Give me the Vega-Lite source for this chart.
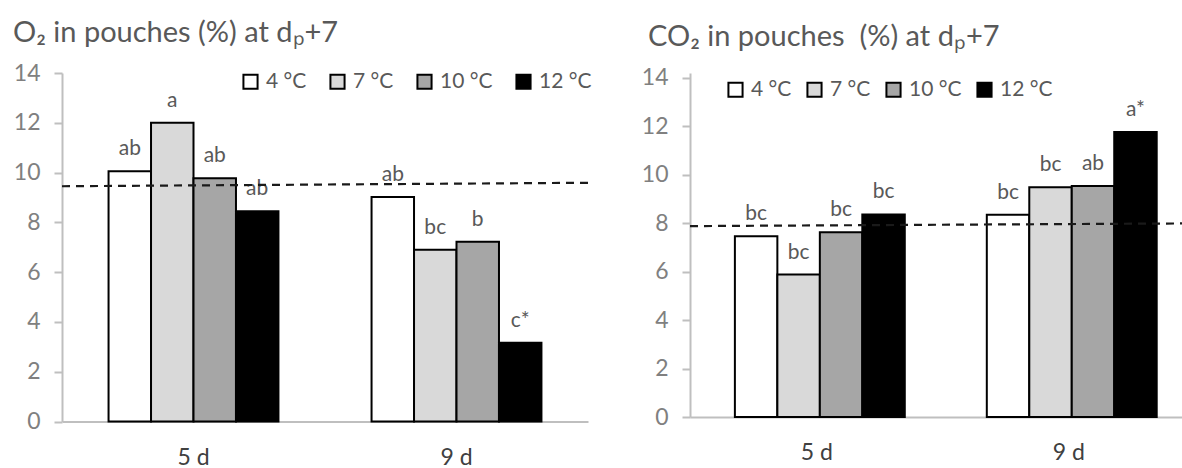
{
  "$schema": "https://vega.github.io/schema/vega-lite/v6.json",
  "padding": {"left": 13, "top": 18, "right": 0, "bottom": 0},
  "background": "white",
  "datasets": {
    "o2": [
      {"day": "5 d", "temp": "4 °C", "value": 10.05, "letter": "ab"},
      {"day": "5 d", "temp": "7 °C", "value": 12.0, "letter": "a"},
      {"day": "5 d", "temp": "10 °C", "value": 9.77, "letter": "ab"},
      {"day": "5 d", "temp": "12 °C", "value": 8.45, "letter": "ab"},
      {"day": "9 d", "temp": "4 °C", "value": 9.02, "letter": "ab"},
      {"day": "9 d", "temp": "7 °C", "value": 6.9, "letter": "bc"},
      {"day": "9 d", "temp": "10 °C", "value": 7.22, "letter": "b"},
      {"day": "9 d", "temp": "12 °C", "value": 3.16, "letter": "c*"}
    ],
    "co2": [
      {"day": "5 d", "temp": "4 °C", "value": 7.46, "letter": "bc"},
      {"day": "5 d", "temp": "7 °C", "value": 5.88, "letter": "bc"},
      {"day": "5 d", "temp": "10 °C", "value": 7.63, "letter": "bc"},
      {"day": "5 d", "temp": "12 °C", "value": 8.36, "letter": "bc"},
      {"day": "9 d", "temp": "4 °C", "value": 8.35, "letter": "bc"},
      {"day": "9 d", "temp": "7 °C", "value": 9.48, "letter": "bc"},
      {"day": "9 d", "temp": "10 °C", "value": 9.54, "letter": "ab"},
      {"day": "9 d", "temp": "12 °C", "value": 11.76, "letter": "a*"}
    ],
    "o2line": [{"pos": 0, "value": 9.45}, {"pos": 1, "value": 9.59}],
    "co2line": [{"pos": 0, "value": 7.88}, {"pos": 1, "value": 7.99}]
  },
  "spacing": 102,
  "bounds": "flush",
  "resolve": {"legend": {"fill": "independent"}},
  "hconcat": [
    {
      "width": 526,
      "height": 348.5,
      "title": {"text": "O₂ in pouches (%) at dₚ+7", "anchor": "start", "frame": "group", "dx": -49, "offset": 14.5, "fontSize": 29, "fontWeight": "normal", "color": "#595959"},
      "layer": [
        {
          "data": {"name": "o2"},
          "layer": [
            {
              "mark": {"type": "bar", "stroke": "black", "strokeWidth": 2},
              "encoding": {
                "x": {"field": "day", "type": "nominal", "sort": ["5 d", "9 d"], "title": null,
                      "scale": {"paddingInner": 0.354, "paddingOuter": 0.177},
                      "axis": {"domainColor": "#bfbfbf", "domainWidth": 2, "ticks": false, "labelAngle": 0, "labelFontSize": 23, "labelColor": "#404040", "labelPadding": 25, "labelBaseline": "top"}},
                "xOffset": {"field": "temp", "type": "nominal", "sort": ["4 °C", "7 °C", "10 °C", "12 °C"], "scale": {"paddingInner": 0, "paddingOuter": 0}},
                "y": {"field": "value", "type": "quantitative", "title": null,
                      "scale": {"domain": [0, 14], "nice": false},
                      "axis": {"values": [0, 2, 4, 6, 8, 10, 12, 14], "grid": false, "domainColor": "#bfbfbf", "domainWidth": 2, "tickColor": "#bfbfbf", "tickWidth": 2, "tickSize": 8, "labelFontSize": 23, "labelColor": "#808080", "labelPadding": 14}},
                "fill": {"field": "temp", "type": "nominal", "sort": ["4 °C", "7 °C", "10 °C", "12 °C"],
                         "scale": {"domain": ["4 °C", "7 °C", "10 °C", "12 °C"], "range": ["#ffffff", "#d9d9d9", "#a6a6a6", "#000000"]},
                         "legend": {"orient": "none", "legendX": 178, "legendY": -2, "direction": "horizontal", "title": null, "symbolType": "square", "symbolSize": 200, "symbolStrokeColor": "black", "symbolStrokeWidth": 2, "labelFontSize": 21, "labelColor": "#595959", "labelOffset": 5, "columnPadding": 19}}
              }
            },
            {
              "mark": {"type": "text", "dy": -16, "baseline": "alphabetic", "fontSize": 21, "color": "#595959"},
              "encoding": {
                "x": {"field": "day", "type": "nominal", "sort": ["5 d", "9 d"]},
                "xOffset": {"field": "temp", "type": "nominal", "sort": ["4 °C", "7 °C", "10 °C", "12 °C"]},
                "y": {"field": "value", "type": "quantitative"},
                "text": {"field": "letter"}
              }
            }
          ]
        },
        {
          "data": {"name": "o2line"},
          "mark": {"type": "line", "strokeDash": [8, 6], "stroke": "#1a1a1a", "strokeWidth": 2.2},
          "encoding": {
            "x": {"field": "pos", "type": "quantitative", "scale": {"domain": [0, 1], "nice": false, "zero": false}, "axis": null},
            "y": {"field": "value", "type": "quantitative"}
          }
        }
      ],
      "resolve": {"scale": {"x": "independent"}}
    },
    {
      "width": 492,
      "height": 344,
      "title": {"text": "CO₂ in pouches\u00a0 (%) at dₚ+7", "anchor": "start", "frame": "group", "dx": -42, "offset": 15, "fontSize": 29, "fontWeight": "normal", "color": "#595959"},
      "layer": [
        {
          "data": {"name": "co2"},
          "layer": [
            {
              "mark": {"type": "bar", "stroke": "black", "strokeWidth": 2},
              "encoding": {
                "x": {"field": "day", "type": "nominal", "sort": ["5 d", "9 d"], "title": null,
                      "scale": {"paddingInner": 0.349, "paddingOuter": 0.151, "align": 0.59},
                      "axis": {"domainColor": "#bfbfbf", "domainWidth": 2, "ticks": false, "labelAngle": 0, "labelFontSize": 23, "labelColor": "#404040", "labelPadding": 24, "labelBaseline": "top"}},
                "xOffset": {"field": "temp", "type": "nominal", "sort": ["4 °C", "7 °C", "10 °C", "12 °C"], "scale": {"paddingInner": 0, "paddingOuter": 0}},
                "y": {"field": "value", "type": "quantitative", "title": null,
                      "scale": {"domain": [0, 14.2], "nice": false},
                      "axis": {"values": [0, 2, 4, 6, 8, 10, 12, 14], "grid": false, "domainColor": "#bfbfbf", "domainWidth": 2, "tickColor": "#bfbfbf", "tickWidth": 2, "tickSize": 8, "labelFontSize": 23, "labelColor": "#808080", "labelPadding": 14}},
                "fill": {"field": "temp", "type": "nominal", "sort": ["4 °C", "7 °C", "10 °C", "12 °C"],
                         "scale": {"domain": ["4 °C", "7 °C", "10 °C", "12 °C"], "range": ["#ffffff", "#d9d9d9", "#a6a6a6", "#000000"]},
                         "legend": {"orient": "none", "legendX": 35, "legendY": 6, "direction": "horizontal", "title": null, "symbolType": "square", "symbolSize": 200, "symbolStrokeColor": "black", "symbolStrokeWidth": 2, "labelFontSize": 21, "labelColor": "#595959", "labelOffset": 5, "columnPadding": 11}}
              }
            },
            {
              "mark": {"type": "text", "dy": -16, "baseline": "alphabetic", "fontSize": 21, "color": "#595959"},
              "encoding": {
                "x": {"field": "day", "type": "nominal", "sort": ["5 d", "9 d"]},
                "xOffset": {"field": "temp", "type": "nominal", "sort": ["4 °C", "7 °C", "10 °C", "12 °C"]},
                "y": {"field": "value", "type": "quantitative"},
                "text": {"field": "letter"}
              }
            }
          ]
        },
        {
          "data": {"name": "co2line"},
          "mark": {"type": "line", "strokeDash": [8, 6], "stroke": "#1a1a1a", "strokeWidth": 2.2},
          "encoding": {
            "x": {"field": "pos", "type": "quantitative", "scale": {"domain": [0, 1], "nice": false, "zero": false}, "axis": null},
            "y": {"field": "value", "type": "quantitative"}
          }
        }
      ],
      "resolve": {"scale": {"x": "independent"}}
    }
  ],
  "config": {
    "font": "Lato",
    "view": {"stroke": null},
    "axis": {"labelFont": "Lato"},
    "legend": {"labelFont": "Lato"},
    "title": {"font": "Lato"}
  }
}
